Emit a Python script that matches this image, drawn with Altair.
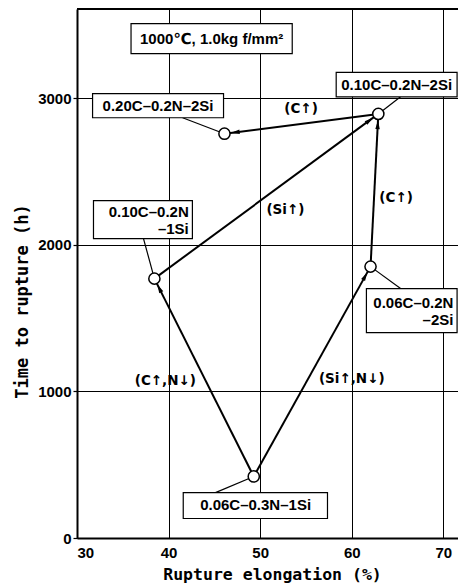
import math
import altair as alt
import pandas as pd

# ---------------- data ----------------
alloys = ["0.06C-0.3N-1Si", "0.10C-0.2N-1Si", "0.06C-0.2N-2Si",
          "0.10C-0.2N-2Si", "0.20C-0.2N-2Si"]
elongation = [49.3, 38.45, 62.05, 62.9, 46.1]        # %
rupture_time = [420, 1770, 1852, 2894, 2759]          # h

arrow_from = [0, 0, 1, 2, 3]
arrow_to = [1, 2, 3, 3, 4]
arrow_labels = ["(C↑,N↓)", "(Si↑,N↓)", "(Si↑)", "(C↑)", "(C↑)"]
arrow_label_x = [39.65, 60.0, 52.76, 64.84, 54.46]
arrow_label_y = [1074, 1088, 2241, 2323, 2930]

x_ticks = [30, 40, 50, 60, 70]
y_ticks = [0, 1000, 2000, 3000]

# annotation boxes (label text, box extents in data units, text anchor, alignment)
box_text = ["1000℃, 1.0kg f/mm²", "0.20C–0.2N–2Si", "0.10C–0.2N–2Si",
            "0.06C–0.2N\n–2Si", "0.10C–0.2N\n–1Si", "0.06C–0.3N–1Si"]
box_x1 = [35.9, 31.7, 58.3, 61.6, 31.8, 41.6]
box_x2 = [53.5, 46.0, 71.5, 71.5, 42.6, 57.35]
box_y1 = [3305, 2868, 3011, 1402, 2043, 133]
box_y2 = [3510, 3032, 3177, 1702, 2302, 310]
box_tx = [44.7, 38.85, 64.9, 71.1, 42.2, 49.5]
box_ty = [3407, 2950, 3094, 1552, 2172, 222]
box_align = ["center", "center", "center", "right", "right", "center"]

# leader lines from box to point
lead_x1 = [41.53, 65.33, 65.33, 37.26, 45.12]
lead_y1 = [2868, 3011, 1702, 2043, 310]
lead_pt = [4, 3, 2, 1, 0]

# ---------------- layout ----------------
W, H = 381, 529
XD = [30, 71.6]
YD = [0, 3610]
sx = W / (XD[1] - XD[0])
sy = H / (YD[1] - YD[0])

pts = pd.DataFrame({"alloy": alloys, "elong": elongation, "time": rupture_time})

rows = []
for f, t in zip(arrow_from, arrow_to):
    x1, y1 = elongation[f], rupture_time[f]
    x2, y2 = elongation[t], rupture_time[t]
    dxp = (x2 - x1) * sx
    dyp = -(y2 - y1) * sy
    L = math.hypot(dxp, dyp)
    ux, uy = dxp / L, dyp / L
    d = 6.3 + 4.5
    rows.append({"x1": x1, "y1": y1, "x2": x2, "y2": y2,
                 "hx": x2 - ux * d / sx, "hy": y2 + uy * d / sy,
                 "ang": math.degrees(math.atan2(dxp, -dyp)) % 360})
arrows = pd.DataFrame(rows)

alabels = pd.DataFrame({"t": arrow_labels, "x": arrow_label_x, "y": arrow_label_y})
boxes = pd.DataFrame({"t": box_text, "x1": box_x1, "x2": box_x2, "y1": box_y1,
                      "y2": box_y2, "tx": box_tx, "ty": box_ty, "al": box_align})
leads = pd.DataFrame({"x1": lead_x1, "y1": lead_y1,
                      "x2": [elongation[i] for i in lead_pt],
                      "y2": [rupture_time[i] for i in lead_pt]})

xs = alt.Scale(domain=XD, nice=False, zero=False)
ys = alt.Scale(domain=YD, nice=False, zero=False)

NUM_FONT = "Liberation Sans"
TITLE_FONT = "DejaVu Sans Mono"
LAB_FONT = "'Liberation Sans', 'DejaVu Sans', sans-serif"

x_axis = alt.Axis(values=x_ticks, format="d", grid=True, gridColor="black", gridWidth=1,
                  gridOpacity=1, domainColor="black", domainWidth=2,
                  tickSize=0, labelPadding=7, labelFont=NUM_FONT,
                  labelFontSize=15, labelFontWeight="bold", labelColor="black",
                  title="Rupture elongation (%)", titleFont=TITLE_FONT,
                  titleFontSize=16.5, titleFontWeight="bold", titleColor="black",
                  titleX=195, titleY=36, titleBaseline="middle", titleAlign="center")
y_axis = alt.Axis(values=y_ticks, format="d", grid=True, gridColor="black", gridWidth=1,
                  gridOpacity=1, domainColor="black", domainWidth=2,
                  tickSize=4, tickColor="black", tickWidth=1.2, labelPadding=2,
                  labelFont=NUM_FONT, labelFontSize=15, labelFontWeight="bold",
                  labelColor="black", labelBaseline="middle",
                  title="Time to rupture (h)", titleFont=TITLE_FONT,
                  titleFontSize=17, titleFontWeight="bold", titleColor="black",
                  titleAngle=270, titleX=-55, titleY=292,
                  titleBaseline="middle", titleAlign="center")


def X(field):
    return alt.X(field, scale=xs, axis=x_axis)


def Y(field):
    return alt.Y(field, scale=ys, axis=y_axis)


base_pts = alt.Chart(pts)

top_border = alt.Chart(pts).mark_rule(color="black", strokeWidth=1.5).encode(
    x=alt.value(0), x2=alt.value(W), y=alt.value(0)
)

arrow_lines = alt.Chart(arrows).mark_rule(color="black", strokeWidth=2).encode(
    x=X("x1:Q"), y=Y("y1:Q"), x2="x2:Q", y2="y2:Q",
)

heads = alt.Chart(arrows).mark_point(
    shape="M0,-1L0.5,1L-0.5,1Z", filled=True, color="black", opacity=1, size=81
).encode(
    x=X("hx:Q"), y=Y("hy:Q"),
    angle=alt.Angle("ang:Q", scale=None),
)

lead_lines = alt.Chart(leads).mark_rule(color="black", strokeWidth=1.2).encode(
    x=X("x1:Q"), y=Y("y1:Q"), x2="x2:Q", y2="y2:Q",
)

circles = base_pts.mark_point(
    shape="circle", filled=False, fill="white", fillOpacity=1,
    stroke="black", strokeWidth=1.5, size=125, opacity=1
).encode(
    x=X("elong:Q"), y=Y("time:Q"),
)

box_rects = alt.Chart(boxes).mark_rect(fill="white", stroke="black", strokeWidth=1.2).encode(
    x=X("x1:Q"), x2="x2:Q", y=Y("y1:Q"), y2="y2:Q",
)

box_c = alt.Chart(boxes[boxes["al"] == "center"]).mark_text(
    font=LAB_FONT, fontSize=15, fontWeight="bold", color="black",
    align="center", baseline="middle", lineBreak="\n", lineHeight=17
).encode(
    x=X("tx:Q"), y=Y("ty:Q"), text="t:N",
)

box_r = alt.Chart(boxes[boxes["al"] == "right"]).mark_text(
    font=LAB_FONT, fontSize=15, fontWeight="bold", color="black",
    align="right", baseline="middle", lineBreak="\n", lineHeight=17, dy=-8
).encode(
    x=X("tx:Q"), y=Y("ty:Q"), text="t:N",
)

arrow_text = alt.Chart(alabels).mark_text(
    font="DejaVu Sans", fontSize=13.5, fontWeight="bold", color="black",
    align="center", baseline="middle"
).encode(
    x=X("x:Q"), y=Y("y:Q"), text="t:N",
)

chart = alt.layer(
    arrow_lines, top_border, lead_lines, heads, circles,
    box_rects, box_c, box_r, arrow_text
).properties(
    width=W, height=H,
    autosize=alt.AutoSizeParams(type="none"),
    padding={"left": 69, "top": 1, "right": 0, "bottom": 48},
    background="white",
).configure_view(stroke="transparent")

chart.save("out.html", embed_options={"renderer": "svg", "actions": False})
